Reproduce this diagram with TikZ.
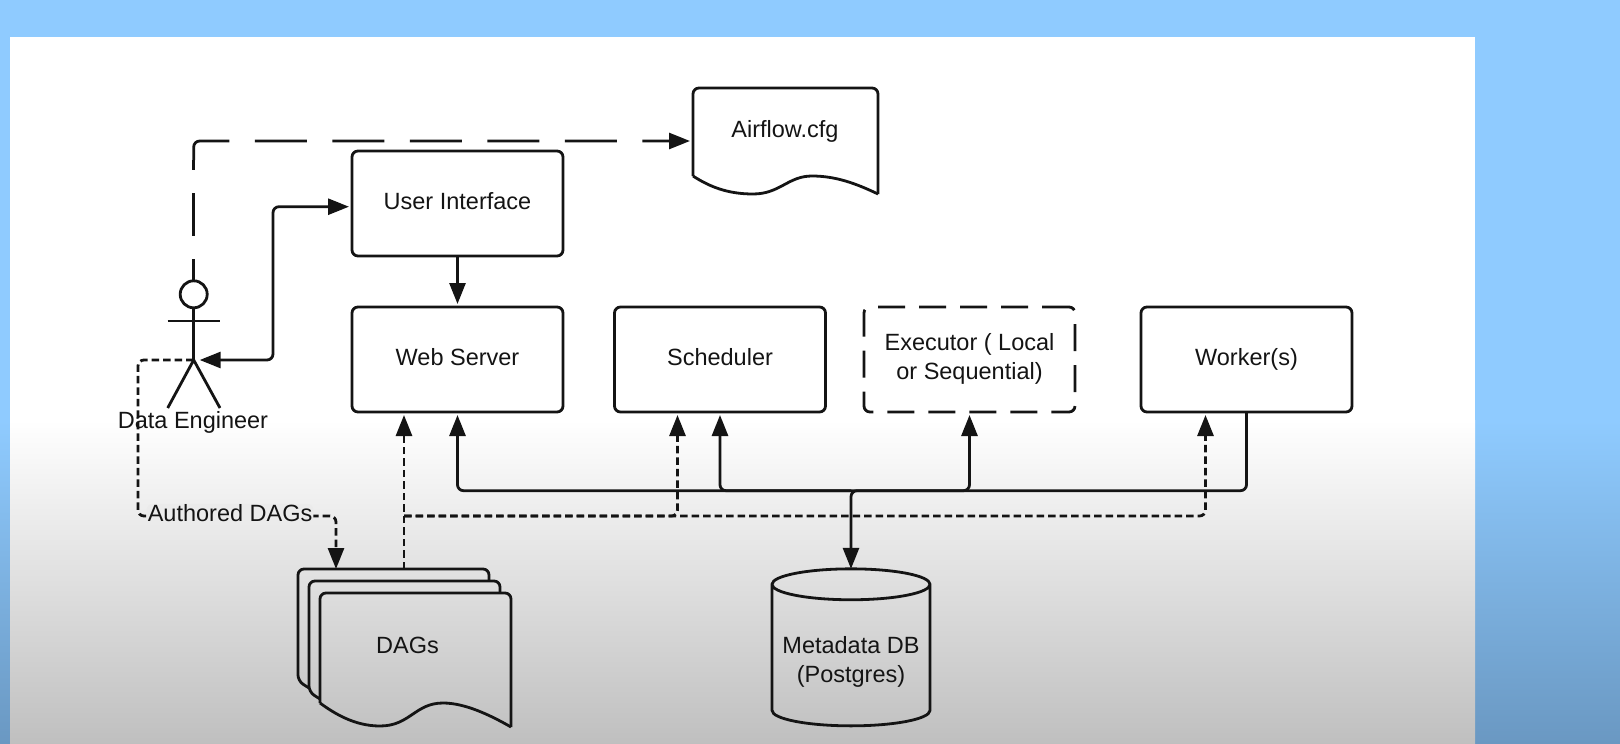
\documentclass[tikz,border=0pt]{standalone}
\usepackage{fontspec}
\setmainfont{Liberation Sans}
\usetikzlibrary{arrows.meta,positioning,shapes.geometric}
\definecolor{slideBlue}{HTML}{8FCBFF}
\definecolor{slideBlueDark}{HTML}{6A98C2}
\definecolor{inkGrey}{HTML}{141414}
\tikzset{
    >={Triangle[length=21pt,width=16pt]},
    punkt/.style={
           rectangle,
           rounded corners=6pt,
           draw=inkGrey, line width=2.8pt,
           outer sep=0pt,
           align=center,
           text depth=6pt,
           minimum width=211pt,
           minimum height=105pt,
           font=\fontsize{23.5}{29}\selectfont,
           text=inkGrey},
    dashPunkt/.style={
           punkt,
           dash pattern=on 27pt off 14pt},
    paper/.style={
           rectangle,
           outer sep=0pt,
           inner sep=0pt,
           font=\fontsize{23.5}{29}\selectfont,
           text=inkGrey},
    sheet/.style={
           draw=inkGrey, line width=2.8pt,
           rounded corners=6pt},
    tag/.style={
           inner sep=1pt,
           font=\fontsize{23.5}{29}\selectfont,
           text=inkGrey},
    pil/.style={
           ->,
           draw=inkGrey,
           line width=2.8pt,
           rounded corners=6pt,
           shorten >=3pt},
    pilDot/.style={
           pil,
           dash pattern=on 7.5pt off 4pt},
    stick/.style={
           draw=inkGrey,
           line width=2.8pt}
}

\begin{document}
\begin{tikzpicture}[x=1pt, y=-1pt, node distance=51pt]
	% slide behind the drawing
	\useasboundingbox (0,0) rectangle (1620,744);
	\fill[slideBlue] (0,0) rectangle (1620,744);
	\shade[top color=slideBlue, bottom color=slideBlueDark] (0,420) rectangle (1620,744);
	\fill[white] (10,37) rectangle (1475,420);
	\shade[top color=white, bottom color=black!25] (10,420) rectangle (1475,744);

	% boxes
	\node[punkt] (UserInterface) at (457.5,203.5) {User Interface};
	\node[punkt, below = of UserInterface] (WebServer) {Web Server};
	\node[punkt, right = 51.5pt of WebServer] (Scheduler) {Scheduler};
	\node[dashPunkt, right = 38.5pt of Scheduler] (Executor) {Executor ( Local\\or Sequential)};
	\node[punkt, right = 66pt of Executor] (Workers) {Worker(s)};
	\node[cylinder, shape border rotate=90, aspect=0.215, draw=inkGrey, line width=2.8pt, outer sep=0pt,
		minimum width=158pt, minimum height=157pt, font=\fontsize{23.5}{29}\selectfont, text=inkGrey, align=center]
		(MetadataDB) at (851,658) {\rule{0pt}{25pt}Metadata DB\\(Postgres)};

	% config file and the stack of dags
	\node[paper, minimum width=185pt, minimum height=106pt] (AirflowCfg) at (785.5,141) {};
	\node[paper] (CfgName) at (785,131) {Airflow.cfg};
	\draw[sheet] ([yshift=18pt]AirflowCfg.south west) -- (AirflowCfg.north west) -- (AirflowCfg.north east) -- (AirflowCfg.south east);
	\draw[stick] (AirflowCfg.south east) .. controls (855,183) and (835,176) .. (812,176)
		.. controls (788,176) and (780,194) .. (753,194) .. controls (728,194) and (710,187) .. ([yshift=18pt]AirflowCfg.south west);
	\node[paper, minimum width=191pt, minimum height=112pt] (DAGsBack) at (393.5,625) {};
	\node[paper, minimum width=191pt, minimum height=134pt] (DAGsFront) at (415.5,660) {};
	\node[paper] (DAGs) at (407.5,645) {DAGs};
	\draw[sheet] (309,688) -- (298,681) -- (298,569) -- (489,569) -- (489,581);
	\draw[sheet] (320,699) -- (309,692) -- (309,581) -- (500,581) -- (500,592.7);
	\draw[sheet] ([yshift=24pt]DAGsFront.south west) -- (DAGsFront.north west) -- (DAGsFront.north east) -- (DAGsFront.south east);
	\draw[stick] (DAGsFront.south east) .. controls (490,715) and (465,703) .. (443,703)
		.. controls (415,703) and (410,726) .. (380,726) .. controls (355,726) and (335,714) .. ([yshift=24pt]DAGsFront.south west);

	% data engineer
	\node[circle, draw=inkGrey, line width=2.8pt, minimum size=27pt, inner sep=0pt, outer sep=0pt] (EngineerHead) at (193.7,294.3) {};
	\coordinate (EngineerHip) at (193.7,360);
	\coordinate (ArmLeft) at (167.7,321);
	\coordinate (ArmRight) at (220,321);
	\coordinate (FootLeft) at (167.7,408);
	\coordinate (FootRight) at (220,408);
	\draw[stick] (EngineerHead) -- (EngineerHip);
	\draw[stick] (ArmLeft) -- (ArmRight);
	\draw[stick] (FootLeft) -- (EngineerHip) -- (FootRight);
	\node[tag] (EngineerName) at (193,422) {Data Engineer};

	% solid connectors
	\coordinate (BusJoint) at (851,490.7);
	\draw[pil] (UserInterface) -- (WebServer);
	\draw[pil, <->, shorten <=6pt, shorten >=3pt] (EngineerHip) -- (273,360) -- (273,206.7) -- (UserInterface.west |- 0,206.7);
	\draw[pil] (BusJoint) -| (WebServer.south);
	\draw[pil] (BusJoint) -| (Scheduler.south);
	\draw[pil] (BusJoint) -| (Executor.south);
	\draw[pil, shorten >=0pt] (Workers.south) |- (BusJoint) -- (MetadataDB.north);

	% dashed connectors
	\coordinate (DashJoint) at (404,516);
	\coordinate (CfgCorner) at (193.7,160);
	\draw[pil, -, dash pattern=on 43pt off 23pt, dash phase=21pt, shorten >=0pt] (EngineerHead.north) -- (CfgCorner);
	\draw[pil, dash pattern=on 52pt off 25.5pt] (CfgCorner) |- (AirflowCfg.west);
	\draw[pilDot, shorten >=0pt] (EngineerHip) -| (138,516) -- node[tag, pos=0.465, yshift=2.5pt, fill=black!8] (AuthoredDAGs) {Authored DAGs} (336,516) -- ([xshift=-57.5pt]DAGsBack.north);
	\draw[pilDot] ([xshift=10.5pt]DAGsBack.north) -- ([xshift=-53.5pt]WebServer.south);
	\draw[pilDot] (DashJoint) -| ([xshift=-42.5pt]Scheduler.south);
	\draw[pilDot] (DashJoint) -| ([xshift=-41pt]Workers.south);
\end{tikzpicture}
\end{document}
